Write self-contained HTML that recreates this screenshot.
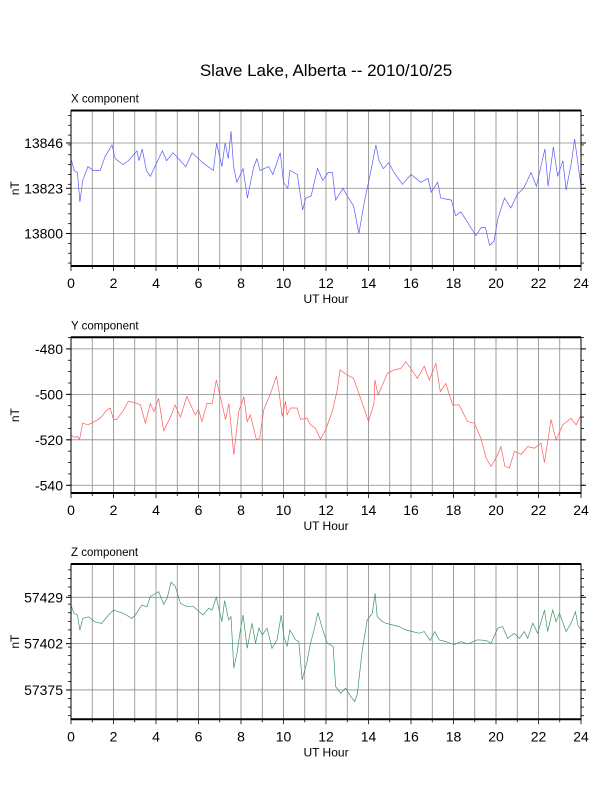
<!DOCTYPE html>
<html><head><meta charset="utf-8"><style>
body{margin:0;background:#fff}
svg{display:block;font-family:"Liberation Sans",Arial,sans-serif}
</style></head><body>
<svg id="chart" width="612" height="792" viewBox="0 0 612 792">
<text x="326" y="76" font-size="17" text-anchor="middle">Slave Lake, Alberta -- 2010/10/25</text>
</svg>
<script>
const xHours=[0.03,0.15,0.3,0.42,0.55,0.8,1.05,1.37,1.6,1.93,2.08,2.45,2.7,3.1,3.2,3.35,3.55,3.73,3.95,4.3,4.5,4.8,5.15,5.4,5.7,6.2,6.7,6.85,7.1,7.25,7.4,7.53,7.65,7.8,8.1,8.3,8.6,8.75,8.9,9.3,9.5,9.85,10,10.2,10.3,10.65,10.9,11.05,11.3,11.6,11.85,12.1,12.3,12.45,12.8,13,13.3,13.55,13.8,14.1,14.35,14.5,14.7,14.95,15.2,15.6,16,16.45,16.8,16.95,17.25,17.4,17.9,18.1,18.35,18.7,19.05,19.3,19.5,19.7,19.9,20.1,20.4,20.7,21,21.3,21.65,21.9,22.3,22.45,22.7,22.9,23.15,23.3,23.55,23.7,24];
const xValues=[13837,13832,13831,13816,13827,13834,13832,13832,13839,13845,13838,13835,13837,13842,13837,13843,13832,13829,13834,13842,13837,13841,13837,13834,13841,13836,13832,13846,13834,13846,13838,13852,13834,13826,13833,13818,13834,13838,13832,13834,13830,13841,13826,13823,13832,13830,13812,13818,13819,13833,13827,13831,13831,13817,13823,13819,13814,13800,13816,13831,13845,13837,13833,13836,13831,13825,13830,13826,13828,13821,13826,13818,13817,13809,13811,13805,13799,13803,13803,13794,13796,13808,13818,13813,13820,13823,13831,13824,13843,13824,13844,13829,13837,13822,13836,13848,13824];
const yHours=[0.03,0.18,0.3,0.4,0.55,0.8,1.1,1.37,1.68,1.84,2.0,2.15,2.47,2.7,3.1,3.27,3.5,3.73,3.9,4.12,4.36,4.68,4.9,5.15,5.45,5.85,6.0,6.16,6.4,6.64,6.84,7.1,7.27,7.43,7.66,7.89,8.13,8.29,8.44,8.73,8.88,9.07,9.39,9.67,9.78,9.94,10.1,10.17,10.33,10.64,10.8,11.1,11.27,11.5,11.74,11.98,12.29,12.53,12.66,13,13.3,13.63,14.0,14.26,14.3,14.45,14.89,15.2,15.52,15.75,15.99,16.3,16.62,16.86,17.17,17.38,17.64,17.96,18.27,18.66,18.98,19.29,19.53,19.77,20.08,20.23,20.42,20.63,20.87,21.18,21.49,21.81,22.12,22.28,22.59,22.83,23.14,23.53,23.77,24];
const yValues=[-518,-519,-518.5,-520,-512.7,-513.4,-512,-510.5,-507,-506,-511,-511,-507,-503,-504,-504.7,-512.7,-504,-507.6,-501.8,-516,-510,-504.7,-510,-501,-509,-506.6,-512,-504,-504.2,-493.7,-504,-511,-504,-526.6,-507.6,-501,-512,-509,-520,-519.3,-506.9,-499.6,-492,-498,-509.8,-503.2,-509,-506,-506,-511,-510.5,-513.4,-515,-519.7,-515.6,-507.6,-498,-489.3,-491.5,-493,-501.8,-512,-504,-493.7,-500.3,-490.8,-489.3,-488.6,-485.7,-488.6,-493,-487.6,-493.7,-486.4,-498.8,-495.2,-504.7,-504.7,-512,-512.7,-519.3,-528,-531.7,-526.6,-523,-531.7,-532.4,-525,-526.4,-523,-523.7,-521.5,-530,-511,-520,-513.4,-510.5,-513.4,-509];
const zHours=[0.03,0.14,0.3,0.42,0.55,0.82,1.13,1.44,1.76,2.0,2.47,2.86,3.02,3.33,3.57,3.73,4.12,4.36,4.52,4.71,4.91,5.15,5.46,5.77,6.21,6.48,6.64,6.84,7.1,7.23,7.42,7.53,7.66,7.81,7.97,8.1,8.29,8.52,8.68,8.84,9.0,9.23,9.46,9.7,9.89,10.02,10.17,10.3,10.56,10.72,10.88,11.11,11.27,11.46,11.62,11.82,12.06,12.34,12.45,12.69,12.92,13.16,13.35,13.47,13.55,13.71,13.94,14.18,14.31,14.41,14.65,14.81,15.12,15.44,15.75,16.07,16.38,16.62,16.9,17.12,17.32,17.64,18.03,18.35,18.66,19.13,19.53,19.77,20.08,20.31,20.55,20.86,21.1,21.33,21.49,21.73,21.96,22.28,22.43,22.67,22.83,22.99,23.3,23.53,23.74,23.85,24];
const zValues=[57423.5,57419.6,57418.6,57409.8,57416.7,57417.6,57414.7,57413.7,57418.6,57421.6,57419.6,57416.7,57418.6,57424.5,57423.5,57429.4,57432.3,57424.9,57428.4,57437.8,57435.3,57425.5,57423.5,57423.5,57418.7,57422.6,57421.6,57429,57414.8,57427,57415.8,57417.7,57387.7,57396.4,57410,57418.7,57399.3,57413.9,57402.2,57411,57407.1,57411,57399.3,57404.2,57418.7,57406.1,57400.3,57410,57404.2,57403.2,57380.9,57391.6,57402.2,57411,57420.1,57411,57402.2,57400.3,57377,57373.1,57376,57371.2,57368.3,57372.2,57380.9,57398.3,57415.8,57419.7,57431.3,57417.7,57414.8,57413.9,57412.9,57411.9,57410,57409,57408,57409,57403.8,57409,57404.2,57403.2,57401.3,57403.2,57401.8,57404.2,57403.8,57402.2,57411,57411.9,57405.1,57408,57405.1,57409,57405.1,57413.9,57408,57421.6,57409,57421.6,57414.8,57419.7,57409,57413.9,57420.6,57412.9,57410];
const xTickLabels=[13800,13823,13846];
const yTickLabels=[-540,-520,-500,-480];
const zTickLabels=[57375,57402,57429];
const hourLabels=[0,2,4,6,8,10,12,14,16,18,20,22,24];

const NS='http://www.w3.org/2000/svg';
const svg=document.getElementById('chart');
function mk(tag,attrs,parent){const e=document.createElementNS(NS,tag);for(const k in attrs)e.setAttribute(k,attrs[k]);(parent||svg).appendChild(e);return e;}
const L=71,R=581;
function panel(key,title,top,bottom,vmin,vmax,ticks,minorStep,hours,vals,color){
  const g=mk('g',{});
  
  
  const sx=h=>L+(R-L)*h/24;
  const sy=v=>bottom-(bottom-top)*(v-vmin)/(vmax-vmin);
  for(let h=1;h<24;h++){const l=mk('line',{x1:sx(h),x2:sx(h),y1:top,y2:bottom,stroke:'#8a8a8a','stroke-width':0.8},g);
    
    }
  ticks.forEach(t=>{const y=sy(t);
    const l=mk('line',{x1:L,x2:R,y1:y,y2:y,stroke:'#8a8a8a','stroke-width':0.8},g);
    
    
    mk('line',{x1:L-5,x2:L,y1:y,y2:y,stroke:'#000','stroke-width':1},g);
    mk('line',{x1:R,x2:R+5,y1:y,y2:y,stroke:'#000','stroke-width':1},g);
    const tx=mk('text',{x:L-8,y:y+5,'font-size':14,'text-anchor':'end'},g);tx.textContent=t;
    
    
  });
  for(let v=Math.ceil(vmin/minorStep)*minorStep;v<=vmax;v+=minorStep){const y=sy(v);
    mk('line',{x1:L-3,x2:L,y1:y,y2:y,stroke:'#000','stroke-width':0.8},g);
    mk('line',{x1:R,x2:R+3,y1:y,y2:y,stroke:'#000','stroke-width':0.8},g);}
  for(let h=0;h<=24;h++){const x=sx(h);mk('line',{x1:x,x2:x,y1:bottom,y2:bottom+(h%2?3:5),stroke:'#000','stroke-width':0.8},g);}
  hourLabels.forEach(h=>{const tx=mk('text',{x:sx(h),y:bottom+22,'font-size':14,'text-anchor':'middle'},g);tx.textContent=h;
    
    });
  const pts=hours.map((h,i)=>sx(h).toFixed(1)+','+sy(vals[i]).toFixed(1)).join(' ');
  const pl=mk('polyline',{points:pts,fill:'none',stroke:color,'stroke-width':0.7},g);
  
  
  const fr=mk('rect',{x:L,y:top,width:R-L,height:bottom-top,fill:'none',stroke:'#000','stroke-width':1},g);
  
  
  mk('line',{x1:L,x2:R,y1:top,y2:top,stroke:'#000','stroke-width':2},g);
  mk('line',{x1:L,x2:R,y1:bottom,y2:bottom,stroke:'#000','stroke-width':2},g);
  const tt=mk('text',{x:L,y:top-8,'font-size':11.5},g);tt.textContent=title;
  
  
  const xl=mk('text',{x:326,y:bottom+37,'font-size':12,'text-anchor':'middle'},g);xl.textContent='UT Hour';
  
  
  const cy=(top+bottom)/2;
  const yl=mk('text',{x:0,y:0,'font-size':12,'text-anchor':'middle',transform:'translate(19,'+cy+') rotate(-90)'},g);yl.textContent='nT';
  
  
}
panel('x-component','X component',110.5,266,13783.5,13862.5,xTickLabels,5,xHours,xValues,'#5a5aff');
panel('y-component','Y component',337.3,493,-543.4,-474.9,yTickLabels,5,yHours,yValues,'#ff5a5a');
panel('z-component','Z component',564,719.3,57357.9,57448.4,zTickLabels,5,zHours,zValues,'#3a9466');
</script>
</body></html>
